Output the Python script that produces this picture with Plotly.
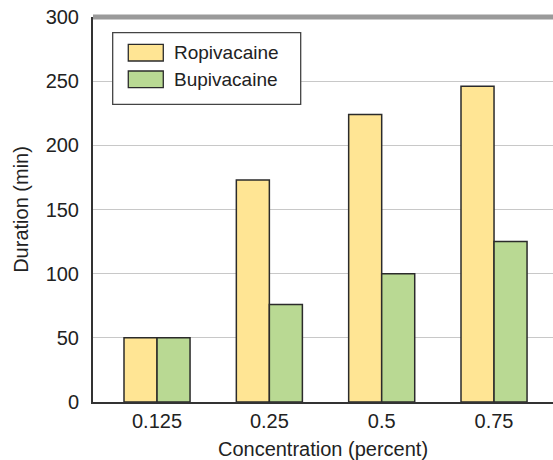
import plotly.graph_objects as go

categories = ["0.125", "0.25", "0.5", "0.75"]
ropivacaine = [50, 173, 224, 246]
bupivacaine = [50, 76, 100, 125]
y_ticks = [0, 50, 100, 150, 200, 250, 300]
series_names = ["Ropivacaine", "Bupivacaine"]
series_colors = ["#FFE594", "#B9D993"]

FONT = "Liberation Sans, Arial, Helvetica, sans-serif"
EDGE = "#2b2b2b"
TXT = "#222"

fig = go.Figure()
for name, vals, col in zip(series_names, [ropivacaine, bupivacaine], series_colors):
    fig.add_trace(go.Bar(x=categories, y=vals, name=name, showlegend=False,
                         marker=dict(color=col, line=dict(color=EDGE, width=1.5))))

fig.update_layout(
    width=553, height=460,
    margin=dict(l=93, r=0, t=17, b=58),
    plot_bgcolor="white", paper_bgcolor="white",
    font=dict(family=FONT, size=20, color=TXT),
    barmode="group", bargap=0.412, bargroupgap=0,
    showlegend=False,
    xaxis=dict(range=[-0.57, 3.525], showline=True, linecolor="#333", linewidth=2,
               ticks="", showgrid=False, automargin=False,
               tickfont=dict(family=FONT, size=20, color=TXT),
               title=dict(text="Concentration (percent)", standoff=11,
                          font=dict(family=FONT, size=20, color=TXT))),
    yaxis=dict(range=[0, 300], tickvals=y_ticks, showline=True, linecolor="#333",
               linewidth=2, ticks="", showgrid=True, gridcolor="#c8c8c8", gridwidth=1.3,
               zeroline=False, automargin=False, ticklabelstandoff=8,
               tickfont=dict(family=FONT, size=20, color=TXT),
               title=dict(text="Duration (min)", standoff=12,
                          font=dict(family=FONT, size=20, color=TXT))),
)

# top border
fig.add_shape(type="line", xref="paper", yref="paper", x0=0, x1=1, y0=1, y1=1,
              line=dict(color="#9a9a9a", width=5))

# legend box (drawn manually to match the large swatches)
fig.add_shape(type="rect", xref="paper", yref="paper",
              x0=0.0428, x1=0.4515, y0=0.7732, y1=0.9592,
              line=dict(color="#444", width=1.3), fillcolor="white")
sw_y = [(0.8857, 0.9291), (0.8164, 0.8597)]
for (y0, y1), name, col in zip(sw_y, series_names, series_colors):
    fig.add_shape(type="rect", xref="paper", yref="paper",
                  x0=0.0767, x1=0.1528, y0=y0, y1=y1,
                  line=dict(color=EDGE, width=1.3), fillcolor=col)
    fig.add_annotation(xref="paper", yref="paper", x=0.1717, y=(y0 + y1) / 2,
                       xanchor="left", yanchor="middle", text=name, showarrow=False,
                       font=dict(family=FONT, size=19, color=TXT))

fig.write_html("out.html", config={"displayModeBar": False},
               post_script="document.body.style.margin='0px';")
